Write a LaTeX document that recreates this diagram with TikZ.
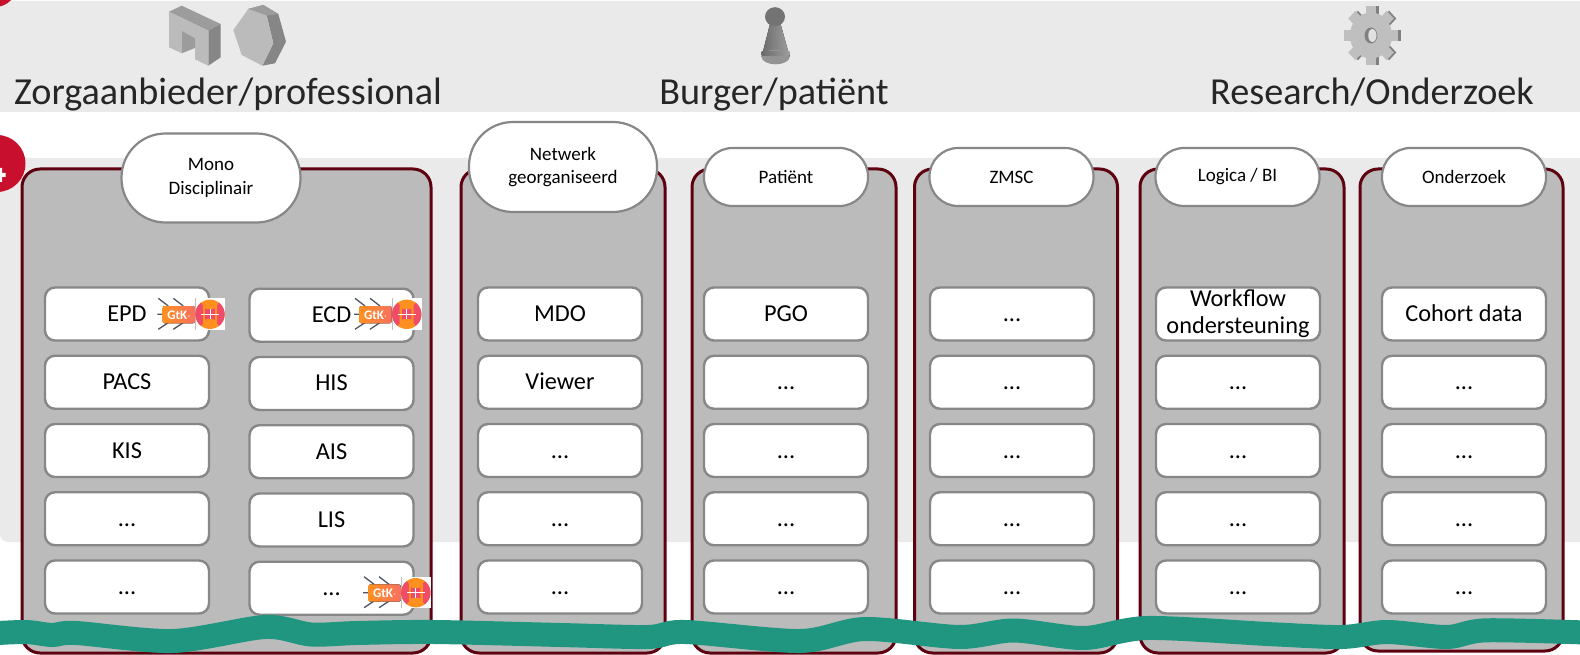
\documentclass[tikz,border=0pt]{standalone}
\usepackage{fontspec}
\setmainfont{Carlito}
\definecolor{bandgrey}{HTML}{EAEAEA}
\definecolor{colgrey}{HTML}{BBBBBB}
\definecolor{edgegrey}{HTML}{878787}
\definecolor{darkred}{HTML}{5E0010}
\definecolor{markred}{HTML}{C8102E}
\definecolor{wavegreen}{HTML}{209580}
\definecolor{gtkorange}{HTML}{FF9020}
\definecolor{gtkcoral}{HTML}{F87060}
\definecolor{gtkpink}{HTML}{EE4C68}
\definecolor{gtkline}{HTML}{4A5666}
\definecolor{facelight}{HTML}{BBBBBB}
\definecolor{facemid}{HTML}{9C9C9C}
\definecolor{facedark}{HTML}{868686}
\newcommand{\blockstrut}{\rule[-3pt]{0pt}{21pt}}
\newcommand{\pillstrut}{\rule{0pt}{18pt}}
\tikzset{
    gtkmark/.pic={
        \draw[gtkline, line width=1.3pt] (-51.7,-16) -- (-41.7,-8.3) (-36.7,-16) -- (-26.7,-8.3)
            (-51.7,15) -- (-41.7,8.3) (-36.7,15) -- (-26.7,8.3) (-52.7,0) -- (-47.3,0);
        \fill[left color=gtkorange, right color=gtkcoral, rounded corners=2pt] (-47.3,-8.3) rectangle (-15,9);
        \node[text=white, font=\fontsize{13}{14}\selectfont\bfseries, inner sep=0pt] (gtk) at (-31,0.5) {GtK$\cdot$};
        \fill[white] (-14.3,-16) rectangle (15,15.7);
        \draw[gray!50, line width=.6pt] (-14.3,-16) -- (-14.3,15.7);
        \fill[gtkorange] (0,0) circle (14.7);
        \fill[gtkpink] (0,0) -- (-52:14.7) arc (-52:52:14.7) -- cycle;
        \fill[gtkpink] (0,0) -- (128:14.7) arc (128:232:14.7) -- cycle;
        \fill[gtkorange] (-7,-9) rectangle (-4.6,9) (4.6,-9) rectangle (7,9);
        \fill[gtkpink] (-4.6,-5) rectangle (4.6,5);
        \fill[gtkorange] (-4.6,-9) rectangle (4.6,-6.5) (-4.6,6.5) rectangle (4.6,9);
        \draw[white, line width=.8pt] (-9,0) -- (9,0) (0,-5) -- (0,5);
    }
}
\begin{document}
\begin{tikzpicture}[x=1pt, y=-1pt]
    \tikzstyle{kolom} = [draw=darkred, fill=colgrey, line width=3pt, rectangle, rounded corners=18pt];
    \tikzstyle{pill} = [draw=edgegrey, fill=white, line width=2.2pt, rectangle, align=center, font=\fontsize{19}{23.5}\selectfont, inner sep=0pt];
    \tikzstyle{bigpill} = [pill, rounded corners=44pt, execute at begin node=\pillstrut];
    \tikzstyle{smallpill} = [pill, rounded corners=28.5pt, minimum width=164pt, minimum height=58pt];
    \tikzstyle{block} = [draw=edgegrey, fill=white, line width=2.4pt, rectangle, rounded corners=10pt, minimum width=164pt, minimum height=53pt, align=center, inner sep=0pt, font=\fontsize{24.3}{27}\selectfont, execute at begin node=\blockstrut];
    \tikzstyle{titel} = [anchor=base, inner sep=0pt, text=black!85, font=\fontsize{38.2}{44}\selectfont];
    \useasboundingbox (0,0) rectangle (1580,655);
    \fill[white] (0,0) rectangle (1580,655);
    \fill[bandgrey, rounded corners=8pt] (-20,1) rectangle (1620,112);
    \fill[bandgrey, rounded corners=8pt] (0,158) -- (0,542) -- (1620,542) -- (1620,158) -- cycle;
    \fill[markred] (-5,-15) circle (22);
    \fill[markred] (-3,163.5) circle (28.5);
    \fill[white] (-10,173) rectangle (5.5,177) (-2,168) rectangle (2,182);

    \fill[facemid] (169,11.7) -- (181.7,5.7) -- (220.7,24) -- (208.3,30.7) -- cycle;
    \fill[facedark] (208.3,30.7) -- (220.7,24) -- (220.7,57.3) -- (208.3,65.7) -- cycle;
    \fill[facelight] (169,11.7) -- (208.3,30.7) -- (208.3,65.7) -- (195,59.3) -- (195,38.3) -- (181.7,30.7) -- (181.7,53.3) -- (169,47.3) -- cycle;
    \fill[facemid] (181.7,30.7) -- (195,38.3) -- (195,48) -- (181.7,53.3) -- cycle;
    \fill[facedark] (248.3,9) -- (263.3,5) -- (278.3,14) -- (286,41.7) -- (275,63.3) -- (262.3,65.7) -- (273.3,43.3) -- (266.7,15.7) -- cycle;
    \fill[facemid] (248.3,9) -- (263.3,5) -- (278.3,14) -- (266.7,15.7) -- cycle;
    \fill[facelight] (248.3,9) -- (266.7,15.7) -- (273.3,43.3) -- (262.3,65.7) -- (241.7,55) -- (233.3,30) -- cycle;

    \fill[left color=black!58, right color=black!38] (770.5,22) -- (780,22) -- (789.7,57) -- (761.6,57) -- cycle;
    \fill[black!42] (775.6,57) ellipse (14 and 7.3);
    \fill[left color=black!58, right color=black!38] (761.6,52) -- (789.7,52) -- (789.7,56) -- (761.6,56) -- cycle;
    \fill[black!55] (775,16.7) ellipse (10 and 9.5);

    \begin{scope}[shift={(1373.5,35.5)}, xscale=.92]
        \foreach \a in {0,45,...,315} {\fill[black!50, rotate=\a] (-5.5,-29.5) rectangle (5.5,0);}
    \end{scope}
    \begin{scope}[shift={(1371,35.5)}, xscale=.92]
        \foreach \a in {0,45,...,315} {\fill[black!25, rotate=\a] (-5.5,-29.5) rectangle (5.5,0);}
        \fill[black!25] (0,0) circle (23);
        \fill[black!50] (0,0) ellipse (7 and 8);
        \fill[black!12] (1.5,0) ellipse (4.5 and 6.5);
    \end{scope}

    \node[titel] (zorg) at (228,105) {Zorgaanbieder/professional};
    \node[titel] (burger) at (774,105) {Burger/patiënt};
    \node[titel] (research) at (1372,105) {Research/Onderzoek};

    \node[kolom, minimum width=409pt, minimum height=484pt] (cmono) at (226.5,411) {};
    \node[kolom, minimum width=204pt, minimum height=484pt] (cnet) at (563,411) {};
    \node[kolom, minimum width=204pt, minimum height=484pt] (cpat) at (794,411) {};
    \node[kolom, minimum width=203pt, minimum height=484pt] (czmsc) at (1016,411) {};
    \node[kolom, minimum width=204pt, minimum height=484pt] (clog) at (1242,411) {};
    \node[kolom, minimum width=203pt, minimum height=482pt] (conder) at (1461.5,410) {};

    \node[bigpill, minimum width=179pt, minimum height=89pt] (mono) at (211,178) {Mono\\Disciplinair};
    \node[bigpill, minimum width=188pt, minimum height=90pt] (netwerk) at (563,167) {Netwerk\\georganiseerd};
    \node[smallpill] (patient) at (786,177) {Patiënt};
    \node[smallpill] (zmsc) at (1011.5,177) {ZMSC};
    \node[smallpill] (logica) at (1237.5,177) {Logica / BI};
    \node[smallpill] (onderzoek) at (1464,177) {Onderzoek};

    \matrix[row sep=12.85pt] at (127,450.5)
    {
        \node[block] (epd) {EPD}; \\
        \node[block] (pacs) {PACS}; \\
        \node[block] (kis) {KIS}; \\
        \node[block] (ml4) {...}; \\
        \node[block] (ml5) {...}; \\
    };
    \matrix[row sep=12.85pt] at (331.5,451.7)
    {
        \node[block] (ecd) {ECD}; \\
        \node[block] (his) {HIS}; \\
        \node[block] (ais) {AIS}; \\
        \node[block] (lis) {LIS}; \\
        \node[block] (mr5) {...}; \\
    };
    \matrix[column sep=59.6pt, row sep=12.85pt] at (1012,450.5)
    {
        \node[block] (mdo) {MDO}; &
        \node[block] (pgo) {PGO}; &
        \node[block] (z1) {...}; &
        \node[block] (wf) {Workflow\\ondersteuning}; &
        \node[block] (cohort) {Cohort data}; \\
        \node[block] (viewer) {Viewer}; &
        \node[block] (p2) {...}; &
        \node[block] (z2) {...}; &
        \node[block] (l2) {...}; &
        \node[block] (o2) {...}; \\
        \node[block] (n3) {...}; &
        \node[block] (p3) {...}; &
        \node[block] (z3) {...}; &
        \node[block] (l3) {...}; &
        \node[block] (o3) {...}; \\
        \node[block] (n4) {...}; &
        \node[block] (p4) {...}; &
        \node[block] (z4) {...}; &
        \node[block] (l4) {...}; &
        \node[block] (o4) {...}; \\
        \node[block] (n5) {...}; &
        \node[block] (p5) {...}; &
        \node[block] (z5) {...}; &
        \node[block] (l5) {...}; &
        \node[block] (o5) {...}; \\
    };

    \pic at (210,314.3) {gtkmark};
    \pic at (406.7,314.3) {gtkmark};
    \pic at (415.8,592.7) {gtkmark};

    \draw[wavegreen, line width=24pt] plot[smooth, tension=.5] coordinates {(-20,634) (25,632) (52,635) (76,633) (173,641) (265,627) (311,634.5) (357,633) (434,632) (561,635) (648,637) (685,632) (800,641) (865,629) (959,637) (1014,630.5) (1084,638) (1148,628) (1273,634.3) (1342,637) (1387,632) (1447,637) (1487,630.3) (1600,633)};
\end{tikzpicture}
\end{document}
